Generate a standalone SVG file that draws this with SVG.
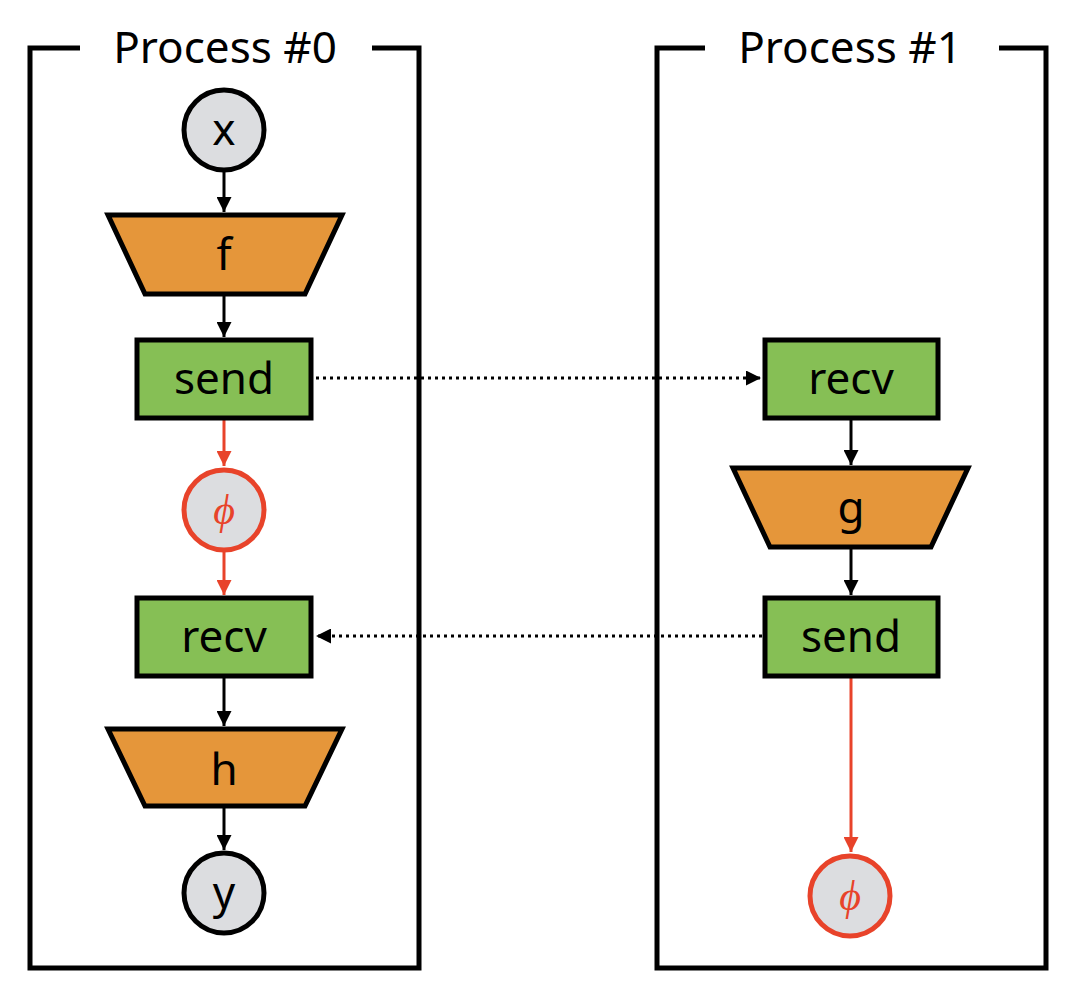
<svg xmlns="http://www.w3.org/2000/svg" width="1069" height="991" viewBox="0 0 1069 991">
<style>
.frame{fill:none;stroke:#000;stroke-width:5}
.t{font-family:"Noto Sans","Liberation Sans",sans-serif;font-size:44px;text-anchor:middle;fill:#000}
.c{fill:#dcdde0;stroke:#000;stroke-width:5}
.cr{fill:#dcdde0;stroke:#e8432a;stroke-width:5}
.op{fill:#e5963a;stroke:#000;stroke-width:5}
.io{fill:#86bf55;stroke:#000;stroke-width:5}
.e{stroke:#000;stroke-width:3;fill:none}
.er{stroke:#e8432a;stroke-width:3;fill:none}
.d{stroke:#000;stroke-width:3;fill:none;stroke-dasharray:3 4}
.phi{font-family:"Liberation Serif",serif;font-style:italic;font-size:42px;text-anchor:middle;fill:#e8432a}
</style>
<defs>
<marker id="a" viewBox="0 0 10 10" refX="10" refY="5" markerWidth="5" markerHeight="5" orient="auto" markerUnits="strokeWidth"><path d="M0,0L10,5L0,10z" fill="#000"/></marker>
<marker id="ar" viewBox="0 0 10 10" refX="10" refY="5" markerWidth="5" markerHeight="5" orient="auto" markerUnits="strokeWidth"><path d="M0,0L10,5L0,10z" fill="#e8432a"/></marker>
</defs>
<g id="process0">
<path class="frame" d="M80,48H30V968H419V48H372"/>
<text class="t" x="225" y="63">Process #0</text>
</g>
<g id="process1">
<path class="frame" d="M705,48H657V968H1046V48H999"/>
<text class="t" x="850" y="63">Process #1</text>
</g>
<g id="connectors">
<line class="e" x1="224" y1="170" x2="224" y2="212" marker-end="url(#a)"/>
<line class="e" x1="224" y1="295" x2="224" y2="337" marker-end="url(#a)"/>
<line class="er" x1="224" y1="420" x2="224" y2="466" marker-end="url(#ar)"/>
<line class="er" x1="224" y1="551" x2="224" y2="595" marker-end="url(#ar)"/>
<line class="e" x1="224" y1="678" x2="224" y2="726" marker-end="url(#a)"/>
<line class="e" x1="224" y1="808" x2="224" y2="850" marker-end="url(#a)"/>
<line class="d" x1="316" y1="378" x2="761" y2="378" marker-end="url(#a)"/>
<line class="e" x1="851" y1="420" x2="851" y2="465" marker-end="url(#a)"/>
<line class="e" x1="851" y1="548" x2="851" y2="595" marker-end="url(#a)"/>
<line class="d" x1="762" y1="636" x2="316" y2="636" marker-end="url(#a)"/>
<line class="er" x1="851" y1="678" x2="851" y2="852" marker-end="url(#ar)"/>
</g>
<g id="x"><circle class="c" cx="224" cy="130" r="40"/><text class="t" x="224" y="145">x</text></g>
<g id="f"><polygon class="op" points="108,215 342,215 305,294 145,294"/><text class="t" x="224" y="270">f</text></g>
<g id="send0"><rect class="io" x="137" y="340" width="174" height="78"/><text class="t" x="224" y="394">send</text></g>
<g id="phi0"><circle class="cr" cx="224" cy="510" r="40"/><text class="phi" x="224" y="524">ϕ</text></g>
<g id="recv0"><rect class="io" x="137" y="598" width="174" height="78"/><text class="t" x="224" y="652">recv</text></g>
<g id="h"><polygon class="op" points="108,729 342,729 305,806 145,806"/><text class="t" x="224" y="785">h</text></g>
<g id="y"><circle class="c" cx="224" cy="893" r="40"/><text class="t" x="224" y="908">y</text></g>
<g id="recv1"><rect class="io" x="765" y="340" width="173" height="78"/><text class="t" x="851" y="394">recv</text></g>
<g id="g"><polygon class="op" points="733,468 968,468 931,547 770,547"/><text class="t" x="851" y="523">g</text></g>
<g id="send1"><rect class="io" x="765" y="598" width="173" height="78"/><text class="t" x="851" y="652">send</text></g>
<g id="phi1"><circle class="cr" cx="850" cy="896" r="40"/><text class="phi" x="850" y="910">ϕ</text></g>
</svg>
